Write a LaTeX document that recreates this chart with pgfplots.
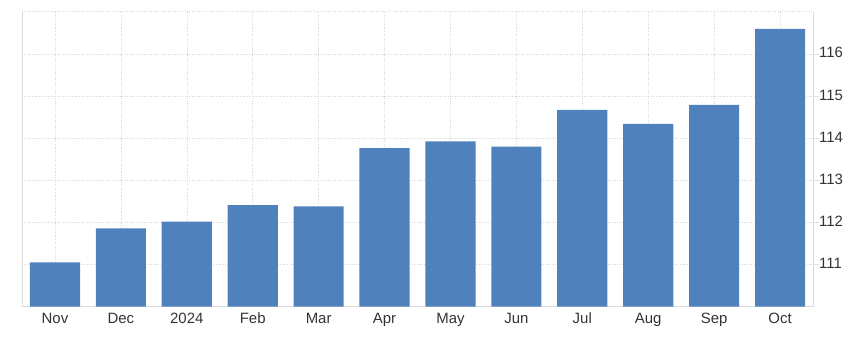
\documentclass[border=0pt]{standalone}
\usepackage{pgfplots}
\pgfplotsset{compat=1.18}
\usepackage{fontspec}
\setmainfont{Liberation Sans}
\usetikzlibrary{calc}
\definecolor{barblue}{HTML}{4F81BD}
\definecolor{axisgray}{HTML}{DCDCDC}
\definecolor{gridgray}{HTML}{D8D8D8}
\definecolor{labelgray}{HTML}{333333}
\begin{document}
\begin{tikzpicture}
\begin{axis}[
  name=ax,
  scale only axis,
  width=791bp, height=295bp,
  xmin=-0.5, xmax=11.5, ymin=110, ymax=117,
  axis x line*=bottom, axis y line*=right,
  axis line style={draw=axisgray, line width=0.8pt},
  every inner x axis line/.append style={-},
  every inner y axis line/.append style={-},
  xtick={0,...,11},
  xticklabels={Nov,Dec,2024,Feb,Mar,Apr,May,Jun,Jul,Aug,Sep,Oct},
  ytick={111,...,116},
  yticklabel pos=right,
  tick align=outside,
  major tick length=6bp,
  xtick style={draw=none},
  ytick style={draw=axisgray, line width=0.6pt},
  xmajorgrids, ymajorgrids,
  grid style={dotted, draw=gridgray, line width=0.5pt},
  extra y ticks={117}, extra y tick labels={},
  extra y tick style={major tick length=0pt},
  extra x ticks={-0.5}, extra x tick labels={},
  extra x tick style={xmajorgrids, major grid style={solid, draw=axisgray, line width=0.8pt}},
  tick label style={font=\fontsize{15}{17}\selectfont, text=labelgray},
  /pgf/number format/assume math mode=true,
  xticklabel style={text height=11bp, text depth=3bp, inner ysep=0pt, yshift=0bp},
  yticklabel style={inner xsep=0pt, xshift=0bp, yshift=1bp},
]
\addplot[ybar, bar width=0.76, bar shift=0pt, fill=barblue, draw=none]
  coordinates {(0,111.05) (1,111.86) (2,112.02) (3,112.41) (4,112.38) (5,113.76)
               (6,113.92) (7,113.80) (8,114.67) (9,114.34) (10,114.79) (11,116.59)};
\end{axis}
\pgfresetboundingbox
\useasboundingbox ($(ax.south west)+(-22bp,-33.3bp)$) rectangle ($(ax.north east)+(40bp,11.7bp)$);
\end{tikzpicture}
\end{document}
